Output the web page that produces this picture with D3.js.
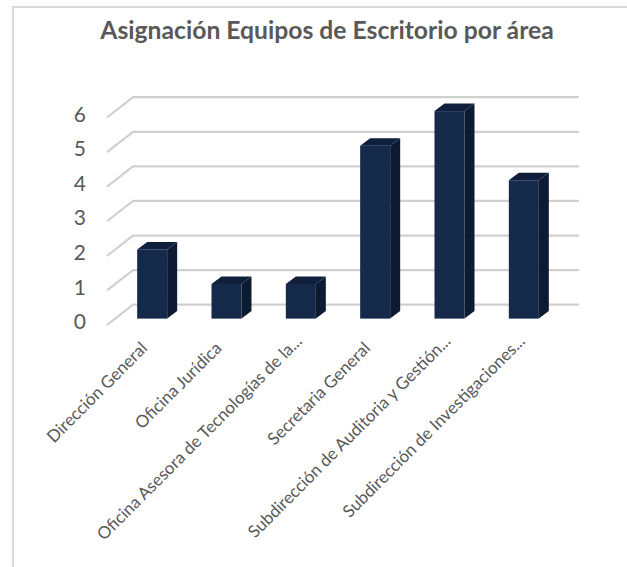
<!DOCTYPE html>
<html lang="en">
<head>
    <meta charset="UTF-8">
    <title>Asignación Equipos de Escritorio por área</title>
    <script src="https://d3js.org/d3.v7.min.js"></script>
    <style>
        html, body { margin: 0; background: #fff; }
        svg { display: block; }
        text { font-family: Lato, "Open Sans", sans-serif; fill: #595959; }
        .domain { display: none; }
    </style>
</head>
<body>
    <svg></svg>
    <script>
        const categories = ["Dirección General", "Oficina Jurídica", "Oficina Asesora de Tecnologías de la...",
            "Secretaria General", "Subdirección de Auditoria y Gestión...", "Subdirección de Investigaciones..."];
        const values = [2, 1, 1, 5, 6, 4];
        const yTicks = [0, 1, 2, 3, 4, 5, 6];
        const title = "Asignación Equipos de Escritorio por área";

        const width = 627, height = 567;
        const svg = d3.select("svg").attr("width", width).attr("height", height);

        // Chart frame
        svg.append("path")
            .attr("d", `M13,${height} V7 H${width}`)
            .attr("fill", "none")
            .attr("stroke", "#d9d9d9")
            .attr("stroke-width", 2);

        svg.append("text")
            .attr("x", 327)
            .attr("y", 39)
            .attr("text-anchor", "middle")
            .style("font-size", "24.7px")
            .style("font-weight", "bold")
            .text(title);

        // Front plane scales, the floor runs back from it
        const x = d3.scaleBand().domain(categories).range([107, 553]);
        const y = d3.scaleLinear().domain([0, 6]).range([325, 117.5]);
        const depthX = 26, depthY = 20.3;
        const barWidth = 30, barDx = 10, barDy = 7.5;
        const barOffX = (depthX - barDx) / 2, barOffY = (depthY - barDy) / 2;

        // Gridlines: back wall and side wall
        const grid = svg.append("g")
            .attr("fill", "none")
            .attr("stroke", "#d0d0d0")
            .attr("stroke-width", 2.2);
        grid.selectAll("path")
            .data(yTicks)
            .join("path")
            .attr("d", d => `M${x.range()[0]},${y(d)} L${x.range()[0] + depthX},${y(d) - depthY} H${x.range()[1] + depthX}`);

        // 3D bars
        const bars = svg.append("g").selectAll("g")
            .data(values)
            .join("g")
            .attr("transform", (d, i) => `translate(${x(categories[i]) + (x.bandwidth() - barWidth) / 2 + barOffX},${-barOffY})`);

        bars.append("rect")
            .attr("y", d => y(d))
            .attr("width", barWidth)
            .attr("height", d => y(0) - y(d))
            .attr("fill", "#15294b");
        bars.append("path")
            .attr("d", d => `M${barWidth},${y(d)} l${barDx},${-barDy} V${y(0) - barDy} l${-barDx},${barDy} Z`)
            .attr("fill", "#0c1b32");
        bars.append("path")
            .attr("d", d => `M0,${y(d)} l${barDx},${-barDy} h${barWidth} l${-barDx},${barDy} Z`)
            .attr("fill", "#101f3c");

        // Axes
        const yAxis = svg.append("g")
            .attr("transform", "translate(86,-3)")
            .call(d3.axisLeft(y).tickValues(yTicks).tickFormat(d3.format("d")).tickSize(0).tickPadding(0));
        yAxis.selectAll("text").style("font-size", "21px");

        const xAxis = svg.append("g")
            .attr("transform", "translate(0,345)")
            .call(d3.axisBottom(x).tickSize(0).tickPadding(0));
        // truncated labels sit a little higher along the axis
        xAxis.selectAll("text")
            .style("font-size", "17px")
            .attr("text-anchor", "end")
            .attr("dy", "0.35em")
            .attr("y", 0)
            .attr("transform", d => d.endsWith("...") ? "translate(6,-7) rotate(-45)" : "rotate(-45)");
    </script>
</body>
</html>
